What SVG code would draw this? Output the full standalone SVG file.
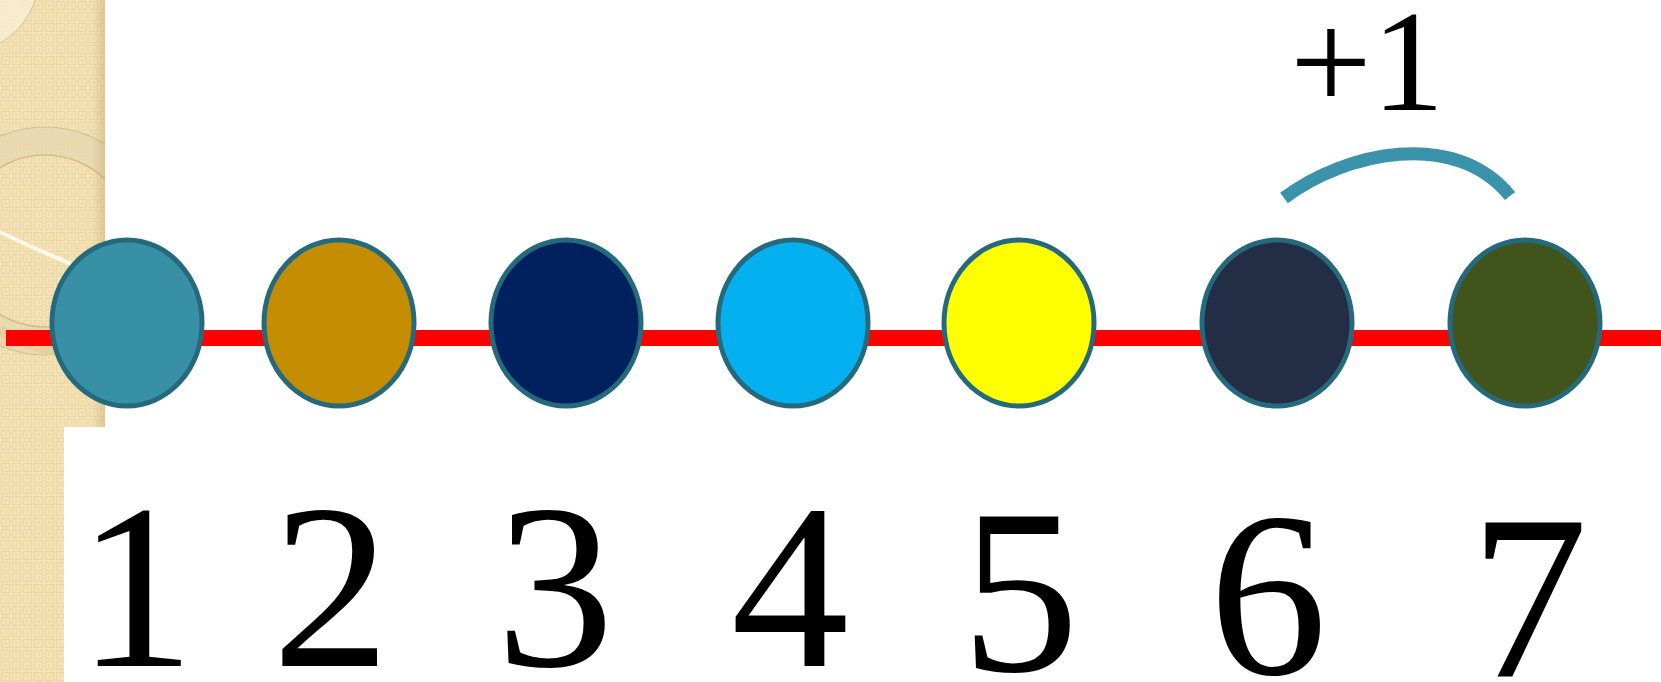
<svg xmlns="http://www.w3.org/2000/svg" width="1661" height="682" viewBox="0 0 1661 682">
  <style>
    .bead { stroke: #256A7C; stroke-width: 5; }
    .num { font-family: 'Liberation Serif', 'Times New Roman', Times, serif; font-size: 236px; fill: #000; text-anchor: middle; }
    .plus { font-family: 'Liberation Serif', 'Times New Roman', Times, serif; font-size: 145px; fill: #000; }
  </style>
  <defs>
    <pattern id="weave" x="0" y="0" width="11" height="11" patternUnits="userSpaceOnUse">
      <rect width="11" height="11" fill="#F5E3B6"/>
      <rect x="1.5" y="1.5" width="8" height="8" fill="none" stroke="#EBD6A5" stroke-width="1.3"/>
      <rect x="4" y="4" width="3" height="3" fill="#EFDBAC"/>
    </pattern>
    <linearGradient id="edge" x1="0" y1="0" x2="1" y2="0">
      <stop offset="0" stop-color="#B59A60" stop-opacity="0"/>
      <stop offset="1" stop-color="#B59A60" stop-opacity="0.35"/>
    </linearGradient>
    <clipPath id="stripClip">
      <path d="M0,0 H105 V427 H64 V682 H0 Z"/>
    </clipPath>
  </defs>

  <rect width="1661" height="682" fill="#FFFFFF"/>

  <g id="background-strip" clip-path="url(#stripClip)">
    <rect x="0" y="0" width="105" height="682" fill="url(#weave)"/>
    <circle cx="-38" cy="-24" r="77" fill="#FAEFD4" fill-opacity="0.8" stroke="#D9C394" stroke-width="1"/>
    <circle cx="45" cy="241" r="100" fill="none" stroke="#E8D8B2" stroke-width="28" stroke-opacity="0.85"/>
    <circle cx="45" cy="241" r="114" fill="none" stroke="#D6C08E" stroke-width="1.2"/>
    <circle cx="45" cy="241" r="86" fill="none" stroke="#D3BC89" stroke-width="1.5"/>
    <path d="M0,232 Q35,249 76,266" fill="none" stroke="#FFF9E8" stroke-width="4"/>
    <path d="M0,330 Q50,362 105,345" fill="none" stroke="#E3CC98" stroke-width="10" stroke-opacity="0.7"/>
    <rect x="92" y="0" width="13" height="427" fill="url(#edge)"/>
  </g>

  <g id="connectors">
    <rect x="6" y="330" width="1655" height="16" fill="#FF0000"/>
    <path d="M1284,198 C1345,152 1455,128 1510,196" fill="none" stroke="#3A93AA" stroke-width="13"/>
  </g>

  <g id="bead1"><ellipse class="bead" cx="127" cy="323" rx="75" ry="83" fill="#3890A7"/></g>
  <g id="bead2"><ellipse class="bead" cx="339" cy="323" rx="75" ry="83" fill="#C48D02"/></g>
  <g id="bead3"><ellipse class="bead" cx="566" cy="323" rx="75" ry="83" fill="#00205E"/></g>
  <g id="bead4"><ellipse class="bead" cx="793" cy="323" rx="75" ry="83" fill="#05B0F0"/></g>
  <g id="bead5"><ellipse class="bead" cx="1019" cy="323" rx="75" ry="83" fill="#FFFF00"/></g>
  <g id="bead6"><ellipse class="bead" cx="1277" cy="323" rx="75" ry="83" fill="#232D46"/></g>
  <g id="bead7"><ellipse class="bead" cx="1525" cy="323" rx="75" ry="83" fill="#41541B"/></g>

  <g id="label-plus1"><text class="plus" x="1290" y="110">+1</text></g>

  <g id="numbers">
    <text class="num" x="136" y="666">1</text>
    <text class="num" x="331" y="666">2</text>
    <text class="num" x="555" y="666">3</text>
    <text class="num" x="790" y="666">4</text>
    <text class="num" x="1020" y="671">5</text>
    <text class="num" x="1268" y="674">6</text>
    <text class="num" x="1529" y="677">7</text>
  </g>
</svg>
